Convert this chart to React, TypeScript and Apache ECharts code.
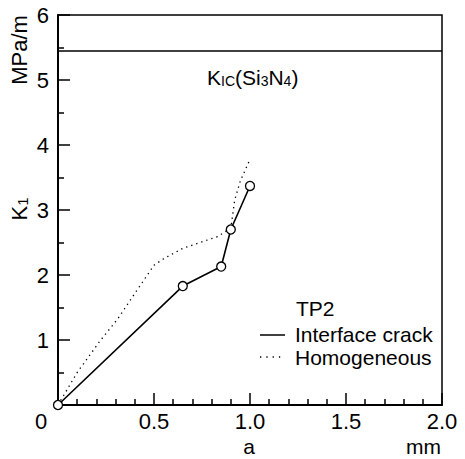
import React, { useEffect, useRef } from "react";
import * as echarts from "echarts";

// crack length a (mm) and stress intensity K1 (MPa·√m)
const interfaceA = [0, 0.65, 0.85, 0.9, 1.0];
const interfaceK = [0, 1.83, 2.13, 2.7, 3.37];

const homogeneousA = [0, 0.1, 0.22, 0.31, 0.41, 0.5, 0.55, 0.65, 0.83, 0.9, 0.92, 0.95, 1.0];
const homogeneousK = [0, 0.5, 0.99, 1.32, 1.76, 2.15, 2.25, 2.41, 2.59, 2.72, 3.15, 3.45, 3.78];

const KIC = 5.45;

const xTicks = [0, 0.5, 1.0, 1.5, 2.0];
const yTicks = [0, 1, 2, 3, 4, 5, 6];

const FONT = "Liberation Sans";

export default function App() {
  const ref = useRef<HTMLDivElement>(null);

  useEffect(() => {
    document.body.style.margin = "0";
    const chart = echarts.init(ref.current!, null, { renderer: "svg" });
    const zip = (xs: number[], ys: number[]) => xs.map((x, i) => [x, ys[i]]);

    chart.setOption({
      animation: false,
      backgroundColor: "#fff",
      grid: {
        left: 58,
        right: 23,
        top: 15,
        bottom: 54,
        show: true,
        borderColor: "#000",
        borderWidth: 1.5,
        backgroundColor: "transparent",
      },
      xAxis: {
        type: "value",
        min: xTicks[0],
        max: xTicks[xTicks.length - 1],
        interval: 0.5,
        axisLine: { show: true, onZero: false, lineStyle: { color: "#000", width: 2 } },
        axisTick: { show: true, inside: true, length: 12, lineStyle: { color: "#000", width: 1.5 } },
        minorTick: { show: true, splitNumber: 5, length: 6, lineStyle: { color: "#000", width: 1.5 } },
        splitLine: { show: false },
        axisLabel: {
          color: "#000",
          fontSize: 22,
          fontFamily: FONT,
          margin: 5,
          formatter: (v: number) => (v === 0 ? "" : v.toFixed(1)),
        },
      },
      yAxis: {
        type: "value",
        min: yTicks[0],
        max: yTicks[yTicks.length - 1],
        interval: 1,
        axisLine: { show: true, onZero: false, lineStyle: { color: "#000", width: 2 } },
        axisTick: { show: true, inside: true, length: 12, lineStyle: { color: "#000", width: 1.5 } },
        minorTick: { show: true, splitNumber: 2, length: 6, lineStyle: { color: "#000", width: 1.5 } },
        splitLine: { show: false },
        axisLabel: {
          color: "#000",
          fontSize: 22,
          fontFamily: FONT,
          margin: 9,
          formatter: (v: number) => (v === 0 ? "" : String(v)),
        },
      },
      series: [
        {
          name: "Homogeneous",
          type: "line",
          data: zip(homogeneousA, homogeneousK),
          symbol: "none",
          lineStyle: { color: "#000", width: 1.3, type: [1.3, 4] },
          z: 2,
        },
        {
          name: "Interface crack",
          type: "line",
          data: zip(interfaceA, interfaceK),
          symbol: "circle",
          symbolSize: 9,
          itemStyle: { color: "#fff", borderColor: "#000", borderWidth: 1.3 },
          lineStyle: { color: "#000", width: 1.6 },
          z: 3,
          markLine: {
            silent: true,
            symbol: ["none", "none"],
            label: { show: false },
            lineStyle: { color: "#000", width: 1.6, type: "solid" },
            data: [{ yAxis: KIC }],
          },
        },
      ],
      graphic: [
        { type: "text", x: 41, y: 421, style: { text: "0", font: `22px ${FONT}`, fill: "#000", align: "center", verticalAlign: "middle" } },
        { type: "text", x: 19, y: 50, rotation: Math.PI / 2, style: { text: "MPa/m", font: `22px ${FONT}`, fill: "#000", align: "center", verticalAlign: "middle" } },
        {
          type: "text",
          x: 19,
          y: 209,
          rotation: Math.PI / 2,
          style: {
            text: "{b|K}{s|1}",
            align: "center",
            verticalAlign: "middle",
            rich: {
              b: { fontSize: 22, fontFamily: FONT, fill: "#000", verticalAlign: "bottom" },
              s: { fontSize: 15, fontFamily: FONT, fill: "#000", verticalAlign: "bottom" },
            },
          },
        },
        { type: "text", x: 249, y: 446, style: { text: "a", font: `21px ${FONT}`, fill: "#000", align: "center", verticalAlign: "middle" } },
        { type: "text", x: 441, y: 446, style: { text: "mm", font: `21px ${FONT}`, fill: "#000", align: "right", verticalAlign: "middle" } },
        {
          type: "text",
          x: 207,
          y: 77,
          style: {
            text: "{b|K}{s|IC}{b|(Si}{s|3}{b|N}{s|4}{b|)}",
            align: "left",
            verticalAlign: "middle",
            rich: {
              b: { fontSize: 21, fontFamily: FONT, fill: "#000", verticalAlign: "bottom" },
              s: { fontSize: 14, fontFamily: FONT, fill: "#000", verticalAlign: "bottom" },
            },
          },
        },
        { type: "text", x: 296, y: 308, style: { text: "TP2", font: `21px ${FONT}`, fill: "#000", align: "left", verticalAlign: "middle" } },
        { type: "line", shape: { x1: 260, y1: 335, x2: 285, y2: 335 }, style: { stroke: "#000", lineWidth: 1.5 } },
        { type: "text", x: 295, y: 334, style: { text: "Interface crack", font: `21px ${FONT}`, fill: "#000", align: "left", verticalAlign: "middle" } },
        { type: "line", shape: { x1: 260, y1: 357, x2: 283, y2: 357 }, style: { stroke: "#000", lineWidth: 1.3, lineDash: [1.3, 5] } },
        { type: "text", x: 295, y: 357, style: { text: "Homogeneous", font: `21px ${FONT}`, fill: "#000", align: "left", verticalAlign: "middle" } },
      ],
    });

    return () => chart.dispose();
  }, []);

  return <div ref={ref} style={{ width: 465, height: 459 }} />;
}
